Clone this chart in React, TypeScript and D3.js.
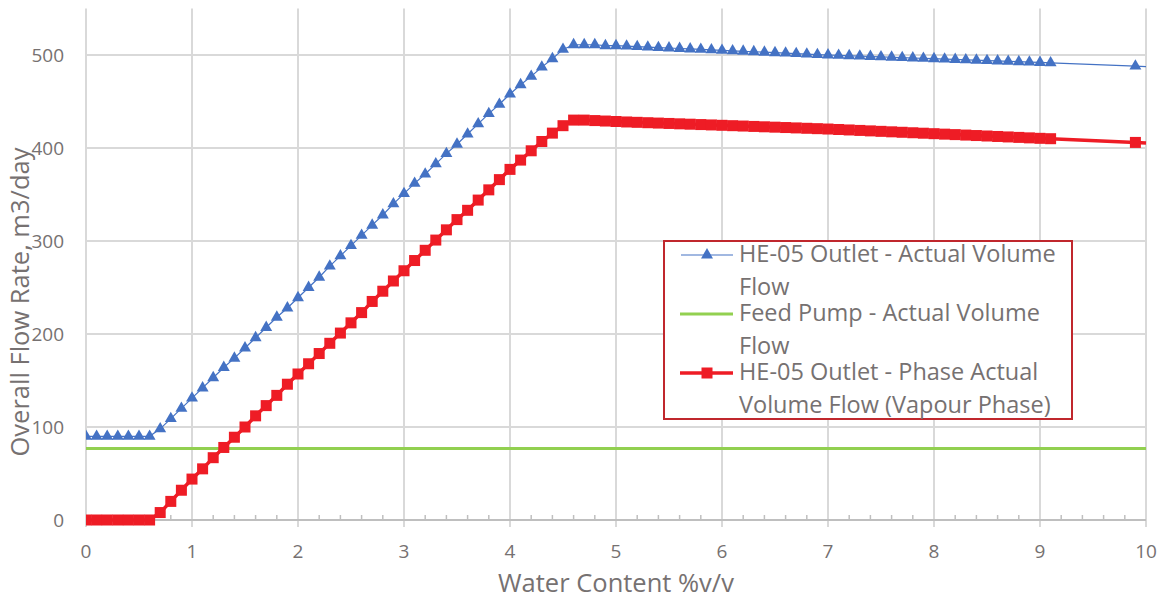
import React from "react";
import * as d3 from "d3";

const xValues = [0,0.1,0.2,0.3,0.4,0.5,0.6,0.7,0.8,0.9,1.0,1.1,1.2,1.3,1.4,1.5,1.6,1.7,1.8,1.9,2.0,2.1,2.2,2.3,2.4,2.5,2.6,2.7,2.8,2.9,3.0,3.1,3.2,3.3,3.4,3.5,3.6,3.7,3.8,3.9,4.0,4.1,4.2,4.3,4.4,4.5,4.6,4.7,4.8,4.9,5.0,5.1,5.2,5.3,5.4,5.5,5.6,5.7,5.8,5.9,6.0,6.1,6.2,6.3,6.4,6.5,6.6,6.7,6.8,6.9,7.0,7.1,7.2,7.3,7.4,7.5,7.6,7.7,7.8,7.9,8.0,8.1,8.2,8.3,8.4,8.5,8.6,8.7,8.8,8.9,9.0,9.1,9.9,10.0];

const outletActual = [90,90,90,90,90,90,90,98,109,120,131,142,153,164,174,185,196,207,218,228,239,250,261,273,284,295,306,317,328,340,351,362,372,383,394,404,415,426,437,447,458,468,477,487,496,506,511,511,511,510,510,509.5,509,508.5,508,507.5,507,506.5,506,505.5,505,504.5,504,503.5,503,502.5,502,501.5,501,500.5,500,499.6,499.2,498.8,498.4,498,497.6,497.2,496.8,496.4,496,495.6,495.2,494.8,494.4,494,493.6,493.2,492.8,492.4,492,491.6,488,487.6];

const outletVapour = [0,0,0,0,0,0,0,8,20,32,44,55,67,78,89,100,112,123,134,146,157,168,179,190,201,212,223,235,246,257,268,279,290,301,312,323,333,344,355,366,377,387,397,407,416,424,430,430,429.5,429,428.5,428,427.6,427.2,426.8,426.4,426,425.6,425.2,424.8,424.4,424,423.6,423.2,422.8,422.4,422,421.6,421.2,420.8,420.4,419.9,419.4,418.9,418.4,417.9,417.4,416.9,416.4,415.9,415.4,414.9,414.4,413.9,413.4,412.9,412.4,411.9,411.4,410.9,410.4,410,406,405.5];

const feedX = [0, 10];
const feedPump = [77, 77];

const xTicks = [0,1,2,3,4,5,6,7,8,9,10];
const yTicks = [0,100,200,300,400,500];

const legendLabels = [
  ["HE-05 Outlet - Actual Volume", "Flow"],
  ["Feed Pump - Actual Volume", "Flow"],
  ["HE-05 Outlet - Phase Actual", "Volume Flow (Vapour Phase)"],
];

const FONT = "'Open Sans', sans-serif";
const TEXT = "#767171";
const BLUE = "#4472C4";
const RED = "#EE1C25";
const GREEN = "#92D050";

export default function App() {
  const W = 1162, H = 604;
  const x = d3.scaleLinear().domain([0, 10]).range([86, 1146]);
  const y = d3.scaleLinear().domain([0, 550]).range([520, 8.5]);

  const blue = xValues.map((v, i) => ({ x: v, y: outletActual[i] }));
  const red = xValues.map((v, i) => ({ x: v, y: outletVapour[i] }));
  const green = feedX.map((v, i) => ({ x: v, y: feedPump[i] }));

  const line = d3.line<{ x: number; y: number }>().x(d => x(d.x)).y(d => y(d.y));
  const tri = d3.symbol().type(d3.symbolTriangle).size(62)();
  const minorTicks = d3.range(0, 50).map(i => i * 0.2).filter(v => Math.abs(v - Math.round(v)) > 1e-6);

  return (
    <svg width={W} height={H} style={{ position: "absolute", left: 0, top: 0, background: "#fff" }}>
      <defs>
        <clipPath id="plot">
          <rect x={86} y={0} width={1062} height={530} />
        </clipPath>
      </defs>
      {/* vertical gridlines */}
      {xTicks.map(t => (
        <line key={"vg" + t} x1={x(t)} x2={x(t)} y1={y(550)} y2={527} stroke="#D9D9D9" strokeWidth={2} />
      ))}
      {/* horizontal gridlines */}
      {yTicks.filter(t => t > 0).map(t => (
        <line key={"hg" + t} x1={x(0)} x2={x(10)} y1={y(t)} y2={y(t)} stroke="#D9D9D9" strokeWidth={2} />
      ))}
      {/* x axis */}
      <line x1={x(0)} x2={x(10)} y1={y(0)} y2={y(0)} stroke="#BFBFBF" strokeWidth={2} />
      {minorTicks.map(t => (
        <line key={"mt" + t} x1={x(t)} x2={x(t)} y1={y(0) - 5} y2={y(0)} stroke="#BFBFBF" strokeWidth={1.5} />
      ))}
      {xTicks.map(t => (
        <text key={"xt" + t} x={x(t)} y={558} textAnchor="middle" fontFamily={FONT} fontSize={19} fill={TEXT}>{t}</text>
      ))}
      {yTicks.map(t => (
        <text key={"yt" + t} x={64} y={y(t) + 7} textAnchor="end" fontFamily={FONT} fontSize={19} fill={TEXT}>{t}</text>
      ))}
      <text x={616} y={592} textAnchor="middle" fontFamily={FONT} fontSize={25.5} fill={TEXT}>Water Content %v/v</text>
      <text transform={`translate(29,${302}) rotate(-90)`} textAnchor="middle" fontFamily={FONT} fontSize={25.5} fill={TEXT}>Overall Flow Rate, m3/day</text>

      <g clipPath="url(#plot)">
        <path d={line(green) || ""} fill="none" stroke={GREEN} strokeWidth={3} />
        <path d={line(red) || ""} fill="none" stroke={RED} strokeWidth={3.5} />
        {red.filter(d => d.x < 10).map((d, i) => (
          <rect key={"rs" + i} x={x(d.x) - 5.5} y={y(d.y) - 5.5} width={11} height={11} fill={RED} />
        ))}
        <path d={line(blue) || ""} fill="none" stroke={BLUE} strokeWidth={1.2} />
        {blue.filter(d => d.x < 10).map((d, i) => (
          <path key={"bt" + i} d={tri || ""} transform={`translate(${x(d.x)},${y(d.y)})`} fill={BLUE} />
        ))}
      </g>

      {/* legend */}
      <rect x={664} y={241} width={408} height={178} fill="#fff" stroke="#C0272D" strokeWidth={2} />
      <line x1={681} x2={733} y1={255} y2={255} stroke={BLUE} strokeWidth={1.2} />
      <path d={tri || ""} transform="translate(707,255)" fill={BLUE} />
      <line x1={680} x2={733} y1={314} y2={314} stroke={GREEN} strokeWidth={3} />
      <line x1={680} x2={733} y1={373} y2={373} stroke={RED} strokeWidth={3.5} />
      <rect x={701.5} y={367.5} width={11} height={11} fill={RED} />
      {legendLabels.map((lines, i) => (
        <g key={"lg" + i}>
          <text x={739} y={262 + i * 59} fontFamily={FONT} fontSize={23.5} fill={TEXT}>{lines[0]}</text>
          <text x={739} y={295 + i * 59} fontFamily={FONT} fontSize={23.5} fill={TEXT}>{lines[1]}</text>
        </g>
      ))}
    </svg>
  );
}
